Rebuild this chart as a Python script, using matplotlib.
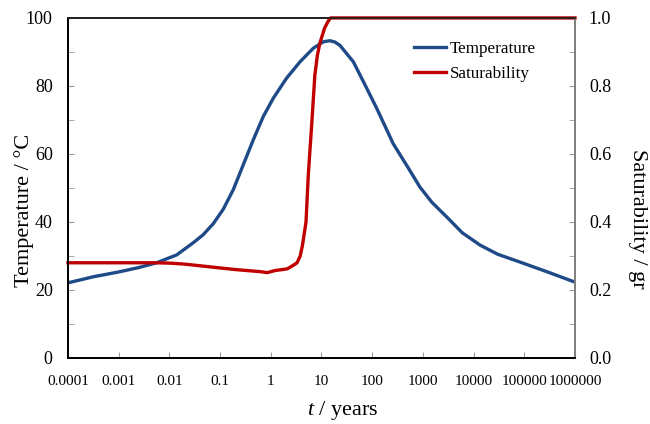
import matplotlib
matplotlib.use("Agg")
import matplotlib.pyplot as plt
from matplotlib.ticker import FixedLocator, MultipleLocator, FormatStrFormatter

# time axis (years) and temperature
t_temp = [1e-4, 3.2e-4, 1e-3, 2.5e-3, 5.6e-3, 0.0139, 0.0296, 0.046, 0.0735,
          0.116, 0.182, 0.286, 0.45, 0.71, 1.12, 2.05, 3.77, 6.9, 10.9,
          14.7, 18.5, 23.2, 42.5, 66.9, 123.0, 260.0, 500.0, 870.0, 1500.0,
          2940.0, 6000.0, 13400.0, 30000.0, 94000.0, 300000.0, 1e6]
temperature = [22.1, 23.9, 25.3, 26.6, 28.0, 30.3, 33.9, 36.2, 39.5,
               43.8, 49.5, 56.8, 64.1, 71.0, 76.4, 82.3, 87.1, 91.1, 93.0,
               93.3, 92.9, 91.9, 87.1, 81.3, 73.4, 63.0, 56.2, 50.3, 45.8,
               41.5, 36.8, 33.2, 30.5, 27.9, 25.2, 22.3]

# saturability (right axis)
t_sat = [1e-4, 1e-3, 5e-3, 0.01, 0.02, 0.063, 0.2, 0.61, 0.85, 1.2,
         2.1, 2.6, 3.3, 3.8, 4.2, 4.95, 5.5, 6.4, 7.4, 8.3, 9.3, 11.5,
         13.5, 15.0, 1e6]
saturability = [0.28, 0.28, 0.28, 0.279, 0.276, 0.268, 0.26, 0.254,
                0.251, 0.257, 0.262, 0.27, 0.28, 0.30, 0.33, 0.40, 0.54,
                0.685, 0.832, 0.89, 0.926, 0.97, 0.99, 1.0, 1.0]

x_ticks = [1e-4, 1e-3, 1e-2, 1e-1, 1, 10, 100, 1000, 10000, 100000, 1000000]
x_tick_labels = ["0.0001", "0.001", "0.01", "0.1", "1", "10", "100",
                 "1000", "10000", "100000", "1000000"]

plt.rcParams["font.family"] = ["Liberation Serif", "DejaVu Serif"]
plt.rcParams["mathtext.fontset"] = "custom"
plt.rcParams["mathtext.it"] = "Liberation Serif:italic"
plt.rcParams["mathtext.rm"] = "Liberation Serif"

BLUE = "#1f4a88"
RED = "#c00000"

fig = plt.figure(figsize=(6.5, 4.24), dpi=100)
ax = fig.add_axes([0.1046, 0.1557, 0.78, 0.802])
ax2 = ax.twinx()

ln1, = ax.plot(t_temp, temperature, color=BLUE, lw=2.4, label="Temperature",
               solid_joinstyle="round")
ln2, = ax2.plot(t_sat, saturability, color=RED, lw=2.4, label="Saturability",
                clip_on=False, solid_joinstyle="round")

ax.set_xscale("log")
ax.set_xlim(1e-4, 1e6)
ax.set_ylim(0, 100)
ax2.set_ylim(0, 1.0)

ax.xaxis.set_major_locator(FixedLocator(x_ticks))
ax.set_xticklabels(x_tick_labels, fontsize=11)
ax.xaxis.set_minor_locator(FixedLocator([]))
ax.tick_params(axis="x", direction="in", length=4, color="#999999", pad=12)

ax.yaxis.set_major_locator(MultipleLocator(20))
ax.yaxis.set_minor_locator(MultipleLocator(10))
ax.tick_params(axis="y", which="both", direction="in", length=4,
               color="#999999", labelsize=13, pad=11)

ax2.yaxis.set_major_locator(MultipleLocator(0.2))
ax2.yaxis.set_minor_locator(MultipleLocator(0.1))
ax2.yaxis.set_major_formatter(FormatStrFormatter("%.1f"))
ax2.tick_params(axis="y", which="both", direction="in", length=4,
                color="#999999", labelsize=13, pad=10)

for a in (ax, ax2):
    a.spines["left"].set_color("black")
    a.spines["bottom"].set_color("black")
    a.spines["top"].set_color("#222222")
    a.spines["right"].set_color("#808080")
    for s in a.spines.values():
        s.set_linewidth(1.3)

ax.set_ylabel("Temperature / °C", fontsize=16, rotation=90, va="center")
ax.yaxis.set_label_coords(-0.087, 0.435)
ax2.set_ylabel("Saturability / gr", fontsize=16, rotation=270, va="center")
ax2.yaxis.set_label_coords(1.124, 0.41)
ax.set_xlabel("$t$ / years", fontsize=16, va="top")
ax.xaxis.set_label_coords(0.542, -0.12)

ax2.legend([ln1, ln2], ["Temperature", "Saturability"], loc="upper left",
           bbox_to_anchor=(0.652, 0.978), frameon=False, fontsize=12.3,
           handlelength=1.9, handletextpad=0.2, labelspacing=0.53)

fig.savefig("out.png", dpi=100)
